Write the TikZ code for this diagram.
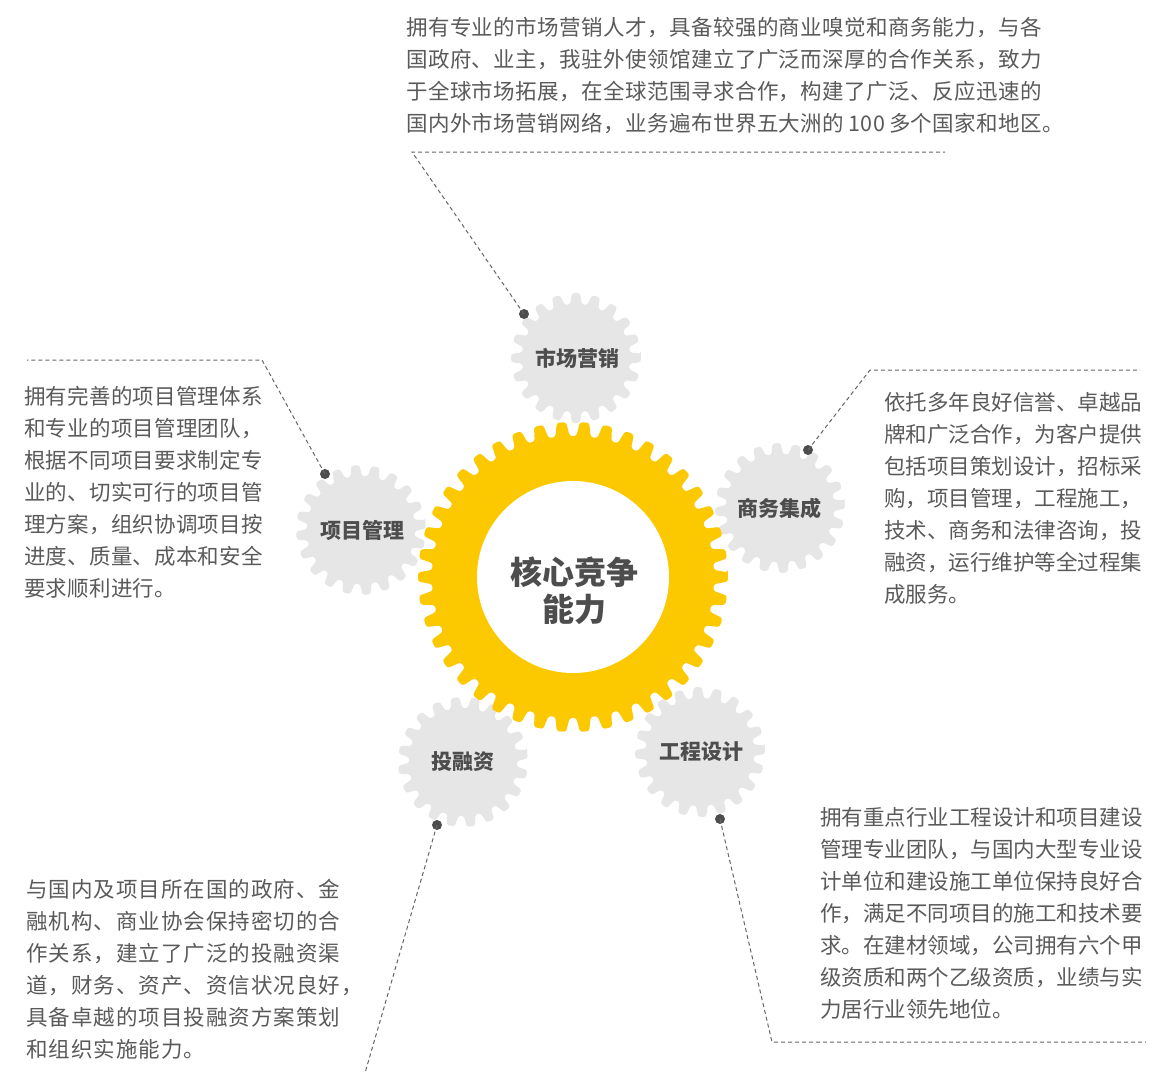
\documentclass[tikz,border=0pt]{standalone}
\usepackage{fontspec}
\newfontfamily\cjk{Noto Sans CJK SC}
\newfontfamily\cjktop[LetterSpace=2.0]{Noto Sans CJK SC}
\newfontfamily\cjkleft[LetterSpace=1.0]{Noto Sans CJK SC}
\newfontfamily\cjkbl[LetterSpace=4.6]{Noto Sans CJK SC}
\definecolor{gearY}{HTML}{FCC800}
\definecolor{gearG}{HTML}{E6E6E6}
\definecolor{labelc}{HTML}{4D4D4D}
\definecolor{bodyc}{HTML}{5A5A5A}
\definecolor{linec}{HTML}{666666}
\newcommand\drawgear[6]{% center, teeth, tip radius, root radius, colour, rotation
  \pgfmathtruncatemacro\gearlast{#2-1}
  \pgfmathsetmacro\gearp{360/#2}
  \fill[#5, rounded corners=2.5pt, shift={#1}, rotate=#6]
    ({-0.2*\gearp}:#3)
    \foreach \i in {0,...,\gearlast} {
      -- ({(\i-0.2)*\gearp}:#3) -- ({(\i+0.2)*\gearp}:#3)
      -- ({(\i+0.34)*\gearp}:#4) -- ({(\i+0.66)*\gearp}:#4)
    } -- cycle;
}
\begin{document}
\begin{tikzpicture}[x=1pt,y=-1pt,
  lbl/.style={font=\cjk\bfseries\fontsize{21}{24}\selectfont, text=labelc, inner sep=0},
  corelbl/.style={font=\cjk\bfseries\fontsize{32}{37}\selectfont, text=labelc, align=center, inner sep=0},
  body/.style={font=\cjk\fontsize{21.5}{32}\selectfont, text=bodyc, align=left, anchor=north west, inner sep=0},
  lead/.style={draw=linec, line width=1pt, dash pattern=on 4pt off 3pt},
  dotc/.style={circle, fill=labelc, inner sep=0, minimum size=10pt}]
\useasboundingbox (0,0) rectangle (1154,1073);
\fill[white] (0,0) rectangle (1154,1073);

% grey gears
\drawgear{(576,358)}{20}{65}{54}{gearG}{0}
\drawgear{(361,530)}{20}{65}{54}{gearG}{5}
\drawgear{(780,508)}{20}{65}{54}{gearG}{3}
\drawgear{(463,762)}{20}{65}{54}{gearG}{7}
\drawgear{(700,752)}{20}{65}{54}{gearG}{2}

% central gear
\drawgear{(573,577)}{42}{155}{141}{gearY}{0}
\fill[white] (573,577) circle (96);

% labels
\node[corelbl] (core) at (574,591) {核心竞争\\能力};
\node[lbl] (mkt) at (577,358) {市场营销};
\node[lbl] (pm) at (362,530) {项目管理};
\node[lbl] (biz) at (779,508) {商务集成};
\node[lbl] (fin) at (463,762) {投融资};
\node[lbl] (eng) at (701,752) {工程设计};

% texts
\node[body, font=\cjktop\fontsize{21.5}{32}\selectfont] (tmkt) at (406,17) {拥有专业的市场营销人才，具备较强的商业嗅觉和商务能力，与各\\国政府、业主，我驻外使领馆建立了广泛而深厚的合作关系，致力\\于全球市场拓展，在全球范围寻求合作，构建了广泛、反应迅速的\\国内外市场营销网络，业务遍布世界五大洲的\kern4pt 100\kern4pt 多个国家和地区。};
\node[body, font=\cjkleft\fontsize{21.5}{32}\selectfont] (tpm) at (24,386) {拥有完善的项目管理体系\\和专业的项目管理团队，\\根据不同项目要求制定专\\业的、切实可行的项目管\\理方案，组织协调项目按\\进度、质量、成本和安全\\要求顺利进行。};
\node[body] (tbiz) at (884,392) {依托多年良好信誉、卓越品\\牌和广泛合作，为客户提供\\包括项目策划设计，招标采\\购，项目管理，工程施工，\\技术、商务和法律咨询，投\\融资，运行维护等全过程集\\成服务。};
\node[body, font=\cjkbl\fontsize{21.5}{32}\selectfont] (tfin) at (26,879) {与国内及项目所在国的政府、金\\融机构、商业协会保持密切的合\\作关系，建立了广泛的投融资渠\\道，财务、资产、资信状况良好，\\具备卓越的项目投融资方案策划\\和组织实施能力。};
\node[body] (teng) at (820,807) {拥有重点行业工程设计和项目建设\\管理专业团队，与国内大型专业设\\计单位和建设施工单位保持良好合\\作，满足不同项目的施工和技术要\\求。在建材领域，公司拥有六个甲\\级资质和两个乙级资质，业绩与实\\力居行业领先地位。};

% leader lines
\node[dotc] (d1) at (524,314) {};
\coordinate (c1) at (412,152);
\coordinate (e1) at (945,152);
\draw[lead] (d1.center) -- (c1) -- (e1);

\node[dotc] (d2) at (325,474) {};
\coordinate (c2) at (262,360);
\coordinate (e2) at (27,360);
\draw[lead] (d2.center) -- (c2) -- (e2);

\node[dotc] (d3) at (808,450) {};
\coordinate (c3) at (870,370);
\coordinate (e3) at (1140,370);
\draw[lead] (d3.center) -- (c3) -- (e3);

\node[dotc] (d4) at (437,825) {};
\coordinate (e4) at (365,1073);
\draw[lead] (d4.center) -- (e4);

\node[dotc] (d5) at (720,819) {};
\coordinate (c5) at (772,1042);
\coordinate (e5) at (1146,1042);
\draw[lead] (d5.center) -- (c5) -- (e5);
\end{tikzpicture}
\end{document}
